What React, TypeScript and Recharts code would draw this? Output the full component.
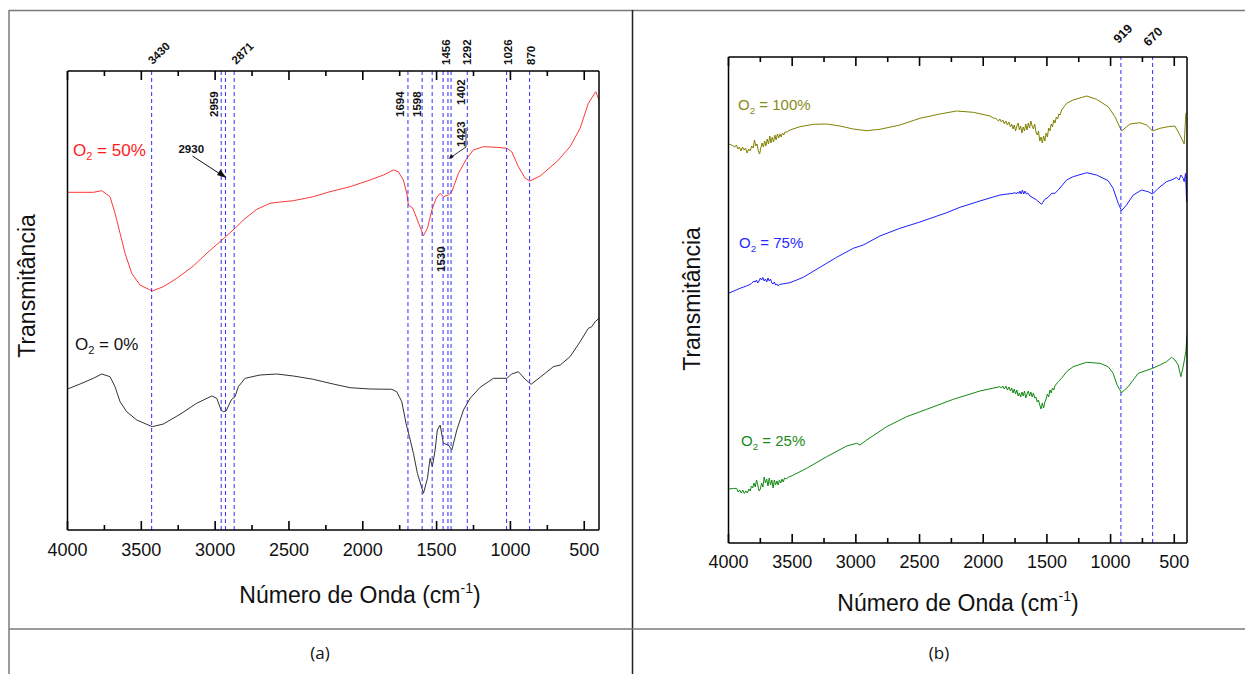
import { Line, LineChart, ReferenceLine, XAxis, YAxis } from 'recharts';

// Wavenumber axis (cm-1), drawn high -> low like an FTIR plot.
const WN_DOMAIN: [number, number] = [400, 4000];
const MAJOR_TICKS = [500, 1000, 1500, 2000, 2500, 3000, 3500, 4000];
const MINOR_TICKS = [750, 1250, 1750, 2250, 2750, 3250, 3750];

// Band positions marked with dashed lines.
const PEAKS_A = [3430, 2959, 2930, 2871, 1694, 1598, 1530, 1456, 1423, 1402, 1292, 1026, 870];
const PEAKS_B = [919, 670];

// Spectra as [wavenumber, transmittance (a.u., offset per curve)].
const O2_50: [number, number][] = [
  [4000, 337.7], [3915, 337.7], [3825, 337.7], [3768, 339.3], [3712, 333.3], [3678, 316.7],
  [3644, 296.7], [3610, 276.7], [3565, 256.7], [3509, 245], [3426, 239], [3351, 243.3],
  [3260, 251.7], [3148, 264], [3057, 276.7], [2967, 288.3], [2933, 292.7], [2899, 297.3],
  [2865, 301.7], [2809, 310], [2718, 320.7], [2628, 326.7], [2560, 328], [2470, 329.3],
  [2335, 333.3], [2222, 338.3], [2086, 343.3], [1951, 350], [1860, 355], [1793, 360],
  [1759, 358.3], [1725, 350], [1702, 336.7], [1691, 325], [1661, 321.7], [1630, 310],
  [1589, 294.3], [1562, 301.7], [1532, 320], [1503, 331.7], [1476, 336.7], [1454, 333.3],
  [1420, 335], [1397, 338.3], [1352, 356.7], [1295, 371.7], [1251, 380], [1183, 383.3],
  [1092, 382.7], [1024, 381.7], [991, 378.3], [946, 363.3], [900, 351.7], [867, 349],
  [799, 354], [686, 368.3], [596, 383.3], [528, 401.7], [472, 426.7], [422, 438.3], [400, 430],
];

const O2_0: [number, number][] = [
  [4000, 141], [3915, 146], [3825, 151.7], [3768, 156], [3712, 153.3], [3678, 143.3],
  [3644, 128.3], [3599, 118.3], [3531, 110], [3426, 103.3], [3351, 106], [3238, 115.7],
  [3125, 126.7], [3023, 134], [2989, 131.7], [2960, 120], [2944, 118.3], [2926, 119],
  [2910, 124], [2888, 130.7], [2865, 133.3], [2843, 143.3], [2797, 151.7], [2696, 155],
  [2583, 156], [2470, 154], [2335, 150.7], [2222, 146.7], [2086, 142.3], [1951, 141],
  [1804, 140.7], [1770, 138.3], [1736, 128.3], [1707, 106.7], [1684, 93.3], [1657, 76.7],
  [1630, 56.7], [1589, 36.7], [1562, 51.7], [1544, 71.7], [1529, 63.3], [1510, 80],
  [1495, 100], [1476, 105], [1454, 86.7], [1420, 85], [1397, 80], [1363, 100], [1318, 120],
  [1273, 131.7], [1205, 142.7], [1115, 151.7], [1024, 151.7], [991, 156], [946, 158.3],
  [900, 150.7], [860, 145.7], [799, 152.7], [709, 163.3], [663, 165], [596, 173.3],
  [528, 188.3], [472, 201.7], [449, 203.3], [426, 208.3], [400, 211.7],
];

const O2_100: [number, number][] = [
  [4000, 399], [3975, 398], [3950, 396], [3938, 398], [3926, 394], [3914, 396], [3902, 392],
  [3890, 396], [3878, 393], [3866, 395], [3854, 390], [3842, 394], [3830, 392], [3818, 397],
  [3806, 395], [3796, 403], [3786, 397], [3776, 399], [3766, 392], [3756, 389], [3746, 395],
  [3736, 400], [3726, 396], [3716, 402], [3706, 397], [3696, 404], [3686, 399], [3676, 407],
  [3666, 400], [3656, 406], [3646, 401], [3636, 408], [3626, 403], [3616, 409], [3606, 405],
  [3596, 409], [3586, 406], [3576, 410], [3566, 408], [3556, 411], [3540, 411], [3517, 413],
  [3439, 416.3], [3334, 418.7], [3229, 419], [3125, 417], [3020, 414], [2915, 412.3],
  [2811, 413.7], [2654, 418], [2497, 424.7], [2340, 429], [2209, 432], [2078, 430.7],
  [1947, 427], [1920, 425], [1900, 424.5], [1880, 422], [1869, 424], [1858, 421], [1846, 423],
  [1834, 419], [1822, 422], [1810, 418], [1798, 421], [1786, 416], [1776, 419], [1766, 414],
  [1756, 418], [1746, 412], [1736, 417], [1726, 420], [1716, 413], [1706, 417], [1696, 410],
  [1686, 416], [1676, 412], [1666, 419], [1656, 413], [1646, 420], [1636, 415], [1626, 422],
  [1616, 417], [1606, 414], [1596, 419], [1586, 411], [1576, 408], [1566, 412], [1556, 402],
  [1546, 406], [1536, 400], [1526, 407], [1516, 402], [1506, 410], [1496, 406], [1486, 415],
  [1476, 412], [1466, 419], [1456, 416], [1446, 423], [1436, 420], [1426, 426], [1416, 424],
  [1406, 429], [1396, 428], [1385, 433], [1345, 439.7], [1294, 443], [1188, 447],
  [1110, 443.7], [1019, 436.3], [966, 426.3], [914, 412], [848, 419], [770, 420.3],
  [717, 418], [670, 412], [613, 414.7], [548, 416.3], [495, 417], [456, 408], [422, 399],
  [409, 429.7], [400, 430],
];

const O2_75: [number, number][] = [
  [4000, 249.7], [3940, 253], [3910, 254.7], [3880, 256], [3860, 257], [3840, 258],
  [3820, 259.5], [3800, 262], [3790, 261], [3780, 263], [3770, 260], [3760, 262], [3750, 265],
  [3740, 263], [3730, 265.5], [3720, 262], [3710, 264], [3700, 261], [3690, 265], [3680, 262],
  [3670, 264], [3660, 260], [3650, 259], [3640, 261], [3630, 258], [3620, 259], [3610, 257],
  [3600, 258.5], [3580, 259], [3517, 260.3], [3413, 265.7], [3282, 275.7], [3151, 285.7],
  [3020, 294.7], [2942, 298], [2811, 307], [2654, 314.7], [2497, 321], [2287, 330.3],
  [2183, 335.7], [2026, 342], [1869, 348], [1765, 349.7], [1750, 350.5], [1740, 349],
  [1730, 351], [1720, 349.5], [1712, 352], [1702, 349], [1692, 353], [1682, 349],
  [1672, 352], [1662, 349], [1650, 350], [1633, 347], [1581, 343], [1542, 338.7],
  [1516, 343.7], [1490, 345.7], [1463, 349.7], [1437, 349.7], [1411, 353], [1345, 363],
  [1294, 366.3], [1188, 370.3], [1110, 368], [1019, 362.3], [980, 354.7], [940, 339.7],
  [914, 332.3], [875, 338], [822, 348], [757, 353], [705, 351.3], [670, 349], [626, 354.7],
  [561, 361.3], [509, 363.7], [483, 365.7], [462, 363], [448, 368], [430, 364.7],
  [422, 361.3], [411, 369.7], [403, 341.3], [400, 368],
];

const O2_25: [number, number][] = [
  [4000, 54], [3960, 54.5], [3936, 54.7], [3924, 51], [3912, 53], [3900, 50], [3888, 53],
  [3876, 49.5], [3864, 52], [3852, 50], [3840, 54], [3830, 52], [3820, 57], [3810, 55],
  [3800, 60], [3790, 56], [3780, 63], [3770, 58], [3760, 52], [3750, 54], [3740, 60],
  [3730, 56], [3720, 66], [3710, 60], [3700, 64], [3690, 57], [3680, 65], [3670, 58],
  [3660, 63], [3650, 55], [3640, 63], [3630, 58], [3620, 62], [3610, 58], [3600, 63],
  [3590, 60], [3580, 64], [3570, 61], [3560, 65], [3545, 64], [3530, 66], [3517, 66.3],
  [3386, 74.7], [3229, 86.3], [3072, 97], [2994, 99.7], [2968, 98], [2915, 103],
  [2758, 116.3], [2601, 126.3], [2444, 133.7], [2235, 143.7], [2026, 152], [1869, 156.3],
  [1858, 155], [1846, 157], [1834, 154], [1822, 157], [1810, 153], [1798, 156], [1786, 152],
  [1776, 155], [1766, 150], [1756, 154], [1746, 149], [1736, 153], [1726, 147], [1716, 150],
  [1706, 146], [1696, 151], [1686, 147], [1676, 152], [1666, 145], [1656, 149], [1646, 152],
  [1636, 147], [1626, 151], [1616, 146], [1606, 150], [1596, 145], [1586, 146], [1576, 141],
  [1566, 143], [1556, 138], [1546, 134], [1536, 140], [1526, 135], [1516, 141], [1506, 144],
  [1496, 149], [1486, 146], [1476, 153], [1466, 150], [1456, 155], [1446, 153], [1437, 157],
  [1426, 159], [1411, 161.3], [1385, 164.7], [1345, 171.3], [1294, 176.3], [1188, 180.7],
  [1083, 179.7], [1019, 176.3], [980, 169.7], [949, 158], [914, 150.3], [862, 156.3],
  [783, 169.7], [670, 174.7], [613, 178], [561, 181.3], [521, 185.7], [495, 183], [469, 178],
  [448, 166.3], [430, 176.3], [409, 191.3], [400, 208],
];

const ALL_TICKS = [...MAJOR_TICKS, ...MINOR_TICKS].sort((a, b) => a - b);
const toPoints = (s: [number, number][]) => s.map(([wn, t]) => ({ wn, t }));

// Built once so the chart receives stable arrays.
const SERIES_A = [
  { name: 'O2 50%', points: toPoints(O2_50), color: '#ff3838' },
  { name: 'O2 0%', points: toPoints(O2_0), color: '#333333' },
];
const SERIES_B = [
  { name: 'O2 100%', points: toPoints(O2_100), color: '#808000' },
  { name: 'O2 75%', points: toPoints(O2_75), color: '#1f1fff' },
  { name: 'O2 25%', points: toPoints(O2_25), color: '#138a13' },
];

const SANS = "'Liberation Sans', Arial, sans-serif";
const DASH_BLUE = '#2f2fff';

// Bottom axis numbers plus the inward tick mark.
function BottomTick(props: any) {
  const { x, y, payload, labelOffset } = props;
  const major = MAJOR_TICKS.includes(payload.value);
  return (
    <g>
      <line x1={x} x2={x} y1={y} y2={y - (major ? 9 : 5)} stroke="#000" strokeWidth={1.6} />
      {major && (
        <text x={x} y={y + labelOffset} textAnchor="middle" fontSize={18} fontFamily={SANS} fill="#111">
          {payload.value}
        </text>
      )}
    </g>
  );
}

// How each band label sits relative to its dashed line (dx from line, dy from plot top).
type PeakLayout = { dx: number; dy: number; angle: number; size: number; arrow?: 'left' | 'leader' };
const LABEL_LAYOUT: Record<number, PeakLayout> = {
  3430: { dx: 1, dy: -6, angle: -45, size: 11.5 },
  2871: { dx: 2, dy: -6, angle: -45, size: 11.5 },
  1456: { dx: 7, dy: -6, angle: -90, size: 11.5 },
  1292: { dx: 4, dy: -6, angle: -90, size: 11.5 },
  1026: { dx: 5, dy: -6, angle: -90, size: 11.5 },
  870: { dx: 5, dy: -6, angle: -90, size: 11.5 },
  2959: { dx: -3, dy: 46, angle: -90, size: 11.5 },
  1694: { dx: -4, dy: 46, angle: -90, size: 11.5 },
  1598: { dx: -1.5, dy: 46, angle: -90, size: 11.5 },
  1402: { dx: 14, dy: 34, angle: -90, size: 11.5 },
  1423: { dx: 17, dy: 76, angle: -90, size: 11.5, arrow: 'leader' },
  1530: { dx: 13, dy: 201, angle: -90, size: 11.5 },
  2930: { dx: -47, dy: 82, angle: 0, size: 11.5, arrow: 'left' },
  919: { dx: -2.5, dy: -13, angle: -45, size: 12.5 },
  670: { dx: -4, dy: -10, angle: -45, size: 12.5 },
};

// Top axis ticks sit on the band positions, so the band labels are drawn as its ticks.
function PeakTick(props: any) {
  const { x, y, payload } = props;
  const peak = payload.value as number;
  const layout = LABEL_LAYOUT[peak];
  if (!layout) return <g />;
  const lx = x;
  const top = y;
  const tx = lx + layout.dx;
  const ty = top + layout.dy;
  return (
    <g>
      <text
        x={tx}
        y={ty}
        transform={layout.angle ? `rotate(${layout.angle} ${tx} ${ty})` : undefined}
        fontSize={layout.size}
        fontWeight="bold"
        fontFamily={SANS}
        fill="#111"
      >
        {peak}
      </text>
      {layout.arrow === 'left' && (
        <g>
          <line x1={lx - 33} y1={top + 85} x2={lx - 3} y2={top + 104.5} stroke="#111" strokeWidth={1} />
          <polygon points={`${lx + 1},${top + 107} ${lx - 8.5},${top + 104} ${lx - 5},${top + 98.5}`} fill="#111" />
        </g>
      )}
      {layout.arrow === 'leader' && (
        <g>
          <polyline
            points={`${tx + 1},${top + 57} ${tx + 1},${top + 76} ${lx + 2},${top + 87}`}
            fill="none"
            stroke="#333"
            strokeWidth={1}
          />
          <polygon points={`${lx + 1},${top + 88} ${lx + 3},${top + 83} ${lx + 6},${top + 86}`} fill="#111" />
        </g>
      )}
    </g>
  );
}

// Axes are 1px thick so Recharts still renders them; margins are one pixel short to compensate.
// y units equal plot pixels, so tick lengths are given directly in data units.
function SpectrumPanel(props: {
  width: number;
  height: number;
  margin: { top: number; right: number; bottom: number; left: number };
  yMax: number;
  labelOffset: number;
  peaks: number[];
  series: { name: string; points: { wn: number; t: number }[]; color: string }[];
}) {
  const { width, height, margin, yMax, labelOffset, peaks, series } = props;
  const frame = { stroke: '#000', strokeWidth: 1.5 };
  const tickLen = (t: number) => (MAJOR_TICKS.includes(t) ? 9 : 5);
  return (
    <LineChart width={width} height={height} margin={margin}>
      <XAxis
        type="number"
        dataKey="wn"
        domain={WN_DOMAIN}
        reversed
        allowDataOverflow
        ticks={ALL_TICKS}
        interval={0}
        height={1}
        tickSize={0}
        tickMargin={0}
        tickLine={false}
        axisLine={frame}
        tick={(p: any) => <BottomTick {...p} labelOffset={labelOffset} />}
      />
      <XAxis
        xAxisId="top"
        orientation="top"
        type="number"
        dataKey="wn"
        domain={WN_DOMAIN}
        reversed
        allowDataOverflow
        ticks={peaks}
        interval={0}
        height={1}
        tickSize={0}
        tickMargin={0}
        tickLine={false}
        axisLine={frame}
        tick={(p: any) => <PeakTick {...p} />}
      />
      <YAxis type="number" domain={[0, yMax]} allowDataOverflow width={1} tick={false} tickLine={false} axisLine={frame} />
      <YAxis
        yAxisId="right"
        orientation="right"
        type="number"
        domain={[0, yMax]}
        allowDataOverflow
        width={1}
        tick={false}
        tickLine={false}
        axisLine={frame}
      />
      {series.map((s) => (
        <Line
          key={s.name}
          name={s.name}
          data={s.points}
          dataKey="t"
          type="linear"
          stroke={s.color}
          strokeWidth={1}
          dot={false}
          activeDot={false}
          isAnimationActive={false}
        />
      ))}
      {peaks.map((p) => (
        <ReferenceLine key={`peak-${p}`} x={p} stroke={DASH_BLUE} strokeWidth={1} strokeDasharray="4 3" />
      ))}
      {ALL_TICKS.map((t) => (
        <ReferenceLine
          key={`top-${t}`}
          segment={[{ x: t, y: yMax - tickLen(t) }, { x: t, y: yMax }]}
          ifOverflow="visible"
          stroke="#000"
          strokeWidth={1.6}
        />
      ))}
    </LineChart>
  );
}

function O2Tag({ x, y, size, color, pct }: { x: number; y: number; size: number; color: string; pct: string }) {
  return (
    <text x={x} y={y} fontSize={size} fontFamily={SANS} fill={color}>
      O
      <tspan fontSize={size * 0.65} dy={size * 0.25}>
        2
      </tspan>
      <tspan dy={-size * 0.25}>{` = ${pct}`}</tspan>
    </text>
  );
}

function AxisTitle({ x, y }: { x: number; y: number }) {
  return (
    <text x={x} y={y} textAnchor="middle" fontSize={23} fontFamily={SANS} fill="#111">
      Número de Onda (cm
      <tspan fontSize={14} dy={-10}>
        -1
      </tspan>
      <tspan dy={10}>)</tspan>
    </text>
  );
}

export default function App() {
  return (
    <div style={{ position: 'absolute', left: 0, top: 0, width: 1245, height: 674, background: '#fff' }}>
      <svg width={1245} height={674} style={{ position: 'absolute', left: 0, top: 0 }}>
        {/* table frame */}
        <line x1={9} x2={1245} y1={10.5} y2={10.5} stroke="#7a7a7a" strokeWidth={1.5} />
        <line x1={9} x2={9} y1={10} y2={674} stroke="#7a7a7a" strokeWidth={1.5} />
        <line x1={632.5} x2={632.5} y1={10} y2={674} stroke="#222" strokeWidth={1.5} />
        <line x1={9} x2={1245} y1={629} y2={629} stroke="#7a7a7a" strokeWidth={1.5} />

        <AxisTitle x={360} y={603} />
        <AxisTitle x={958} y={611} />
        <text x={35} y={286} transform="rotate(-90 35 286)" textAnchor="middle" fontSize={23} fontFamily={SANS} fill="#111">
          Transmitância
        </text>
        <text x={700} y={299} transform="rotate(-90 700 299)" textAnchor="middle" fontSize={23} fontFamily={SANS} fill="#111">
          Transmitância
        </text>

        <O2Tag x={73} y={155.5} size={17} color="#ff1a1a" pct="50%" />
        <O2Tag x={75} y={350} size={17} color="#111" pct="0%" />
        <O2Tag x={738} y={110} size={15} color="#8a8a1a" pct="100%" />
        <O2Tag x={739} y={248} size={15} color="#2a2aff" pct="75%" />
        <O2Tag x={741} y={446} size={15} color="#1a8a1a" pct="25%" />

        <text x={320} y={659} textAnchor="middle" fontSize={17} fontFamily="'Open Sans', sans-serif" fill="#111">
          (a)
        </text>
        <text x={939} y={659} textAnchor="middle" fontSize={17} fontFamily="'Open Sans', sans-serif" fill="#111">
          (b)
        </text>
      </svg>
      <div style={{ position: 'absolute', left: 0, top: 0 }}>
        <SpectrumPanel
          width={632}
          height={629}
          margin={{ top: 70, right: 32, bottom: 98, left: 66.5 }}
          yMax={459}
          labelOffset={26}
          peaks={PEAKS_A}
          series={SERIES_A}
        />
      </div>
      <div style={{ position: 'absolute', left: 632, top: 0 }}>
        <SpectrumPanel
          width={613}
          height={629}
          margin={{ top: 56, right: 57, bottom: 85, left: 95.5 }}
          yMax={486}
          labelOffset={24.5}
          peaks={PEAKS_B}
          series={SERIES_B}
        />
      </div>
    </div>
  );
}
